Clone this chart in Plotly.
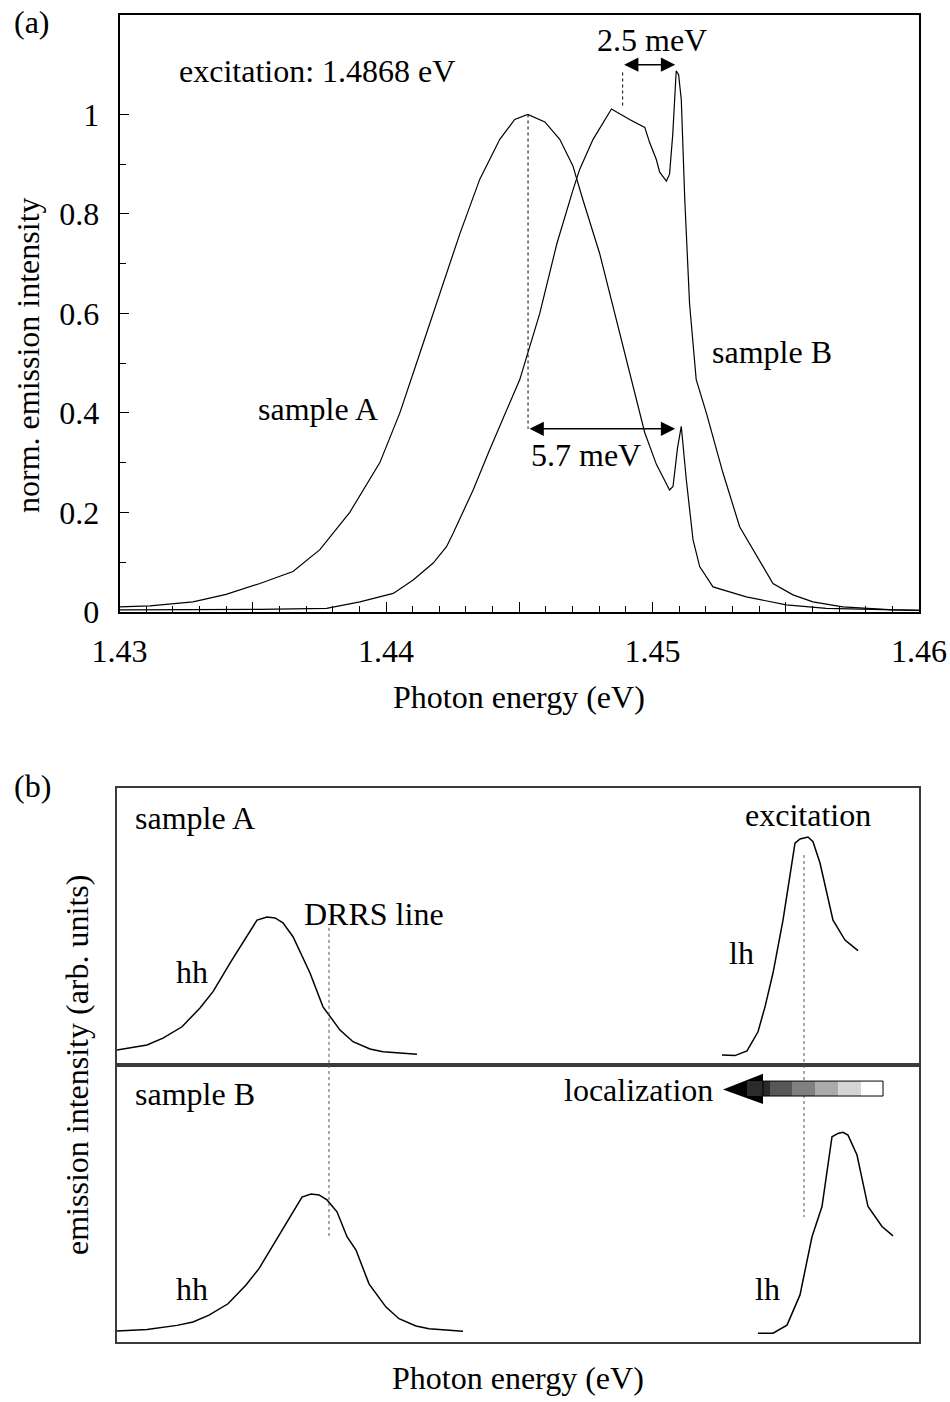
import plotly.graph_objects as go

# ---------------- panel (a): normalised emission spectra ----------------
energy_a = [1.43000, 1.43114, 1.43276, 1.43400, 1.43527, 1.43651, 1.43752, 1.43864,
            1.43977, 1.44052, 1.44127, 1.44202, 1.44277, 1.44352, 1.44427, 1.44483,
            1.44532, 1.44596, 1.44652, 1.44701, 1.44738, 1.44802, 1.44858, 1.44921,
            1.44971, 1.45015, 1.45064, 1.45077, 1.45094, 1.45108, 1.45127, 1.45152,
            1.45177, 1.45227, 1.45352, 1.45502, 1.45652, 1.46000]
intensity_a = [0.010, 0.012, 0.020, 0.035, 0.057, 0.081, 0.125, 0.200,
               0.300, 0.400, 0.520, 0.640, 0.760, 0.870, 0.950, 0.990,
               1.000, 0.985, 0.950, 0.897, 0.830, 0.720, 0.600, 0.467,
               0.360, 0.296, 0.245, 0.252, 0.330, 0.373, 0.265, 0.145,
               0.091, 0.050, 0.030, 0.014, 0.007, 0.003]

energy_b = [1.43000, 1.43300, 1.43527, 1.43777, 1.43902, 1.44027, 1.44102, 1.44177,
            1.44227, 1.44252, 1.44327, 1.44389, 1.44452, 1.44502, 1.44577, 1.44641,
            1.44702, 1.44727, 1.44777, 1.44846, 1.44914, 1.44971, 1.44989, 1.45014,
            1.45027, 1.45052, 1.45064, 1.45076, 1.45089, 1.45098, 1.45108, 1.45121,
            1.45139, 1.45164, 1.45202, 1.45264, 1.45327, 1.45402, 1.45452, 1.45527,
            1.45602, 1.45714, 1.45902, 1.46000]
intensity_b = [0.004, 0.004, 0.005, 0.007, 0.020, 0.037, 0.064, 0.098,
               0.131, 0.158, 0.245, 0.326, 0.406, 0.467, 0.600, 0.740,
               0.849, 0.890, 0.950, 1.011, 0.990, 0.974, 0.944, 0.910,
               0.884, 0.866, 0.880, 0.960, 1.088, 1.080, 1.030, 0.830,
               0.620, 0.467, 0.400, 0.280, 0.171, 0.104, 0.057, 0.034,
               0.020, 0.010, 0.004, 0.003]

x_major = [1.43, 1.435, 1.44, 1.445, 1.45, 1.455, 1.46]
x_major_text = ["1.43", "", "1.44", "", "1.45", "", "1.46"]
y_major = [0, 0.2, 0.4, 0.6, 0.8, 1.0]
y_major_text = ["0", "0.2", "0.4", "0.6", "0.8", "1"]
y_minor = [0.1, 0.3, 0.5, 0.7, 0.9]

peak_a = 1.44533          # maximum of sample A
drrs_a = 1.45090          # sharp line on both spectra
peak_b = 1.44888          # broad maximum of sample B
arrow_57_y = 0.368
arrow_25_y = 1.100

# ---------------- panel (b): schematic hh / lh emission -----------------
hh_a_x = [0, 30, 46, 65, 83, 96, 105, 113, 140, 150, 158, 166, 176, 193, 206, 223, 236, 253, 266, 300]
hh_a_y = [0.054, 0.072, 0.097, 0.138, 0.206, 0.265, 0.319, 0.368, 0.523, 0.534, 0.531, 0.513,
          0.463, 0.332, 0.210, 0.126, 0.084, 0.058, 0.048, 0.039]
lh_a_x = [605, 618, 630, 641, 648, 656, 666, 678, 683, 691, 696, 703, 716, 728, 741]
lh_a_y = [0.036, 0.034, 0.051, 0.120, 0.210, 0.332, 0.523, 0.801, 0.816, 0.823, 0.806, 0.729,
          0.523, 0.451, 0.413]

hh_b_x = [0, 30, 60, 76, 92, 111, 129, 142, 151, 159, 185, 194, 202, 210, 220, 230, 239, 252, 269, 282, 299, 312, 346]
hh_b_y = [0.040, 0.045, 0.060, 0.072, 0.097, 0.138, 0.206, 0.265, 0.319, 0.368, 0.523, 0.534,
          0.531, 0.513, 0.470, 0.380, 0.332, 0.210, 0.126, 0.084, 0.058, 0.048, 0.039]
lh_b_x = [641, 656, 670, 683, 695, 705, 715, 721, 726, 731, 740, 751, 765, 776]
lh_b_y = [0.032, 0.032, 0.061, 0.170, 0.380, 0.489, 0.741, 0.753, 0.757, 0.747, 0.675, 0.489,
          0.417, 0.383]

drrs_x = 212
drrs_top = 0.495
exc_x = 687
exc_top = 0.758
exc_bottom = 0.451
drrs_bottom = 0.380

FONT = "Liberation Serif, Times New Roman, serif"
BLACK = "#000000"
FRAME = "#3a3a3a"

fig = go.Figure()

# spectra
fig.add_trace(go.Scatter(x=energy_a, y=intensity_a, mode="lines",
                         line=dict(color=BLACK, width=1.2), xaxis="x", yaxis="y"))
fig.add_trace(go.Scatter(x=energy_b, y=intensity_b, mode="lines",
                         line=dict(color=BLACK, width=1.2), xaxis="x", yaxis="y"))
# dotted markers of peak positions
fig.add_trace(go.Scatter(x=[peak_a, peak_a], y=[1.0, arrow_57_y], mode="lines",
                         line=dict(color=BLACK, width=1, dash="dot"), xaxis="x", yaxis="y"))
fig.add_trace(go.Scatter(x=[peak_b, peak_b], y=[1.018, 1.087], mode="lines",
                         line=dict(color=BLACK, width=1, dash="dot"), xaxis="x", yaxis="y"))

# schematic curves
fig.add_trace(go.Scatter(x=hh_a_x, y=hh_a_y, mode="lines", line=dict(color=BLACK, width=1.5),
                         xaxis="x2", yaxis="y2"))
fig.add_trace(go.Scatter(x=lh_a_x, y=lh_a_y, mode="lines", line=dict(color=BLACK, width=1.5),
                         xaxis="x2", yaxis="y2"))
fig.add_trace(go.Scatter(x=hh_b_x, y=hh_b_y, mode="lines", line=dict(color=BLACK, width=1.5),
                         xaxis="x3", yaxis="y3"))
fig.add_trace(go.Scatter(x=lh_b_x, y=lh_b_y, mode="lines", line=dict(color=BLACK, width=1.5),
                         xaxis="x3", yaxis="y3"))
# DRRS and excitation guide lines through both halves
for xv, top in [(drrs_x, drrs_top), (exc_x, exc_top)]:
    fig.add_trace(go.Scatter(x=[xv, xv], y=[top, 0], mode="lines",
                             line=dict(color="#555555", width=1, dash="dot"), xaxis="x2", yaxis="y2"))
for xv, bot in [(drrs_x, drrs_bottom), (exc_x, exc_bottom)]:
    fig.add_trace(go.Scatter(x=[xv, xv], y=[1, bot], mode="lines",
                             line=dict(color="#555555", width=1, dash="dot"), xaxis="x3", yaxis="y3"))

tickfont = dict(family=FONT, size=32, color=BLACK)
frame_axis = dict(showline=True, linecolor=FRAME, linewidth=1.5, mirror=True, automargin=False,
                  showgrid=False, zeroline=False, showticklabels=False, ticks="")

fig.update_layout(
    width=950, height=1402,
    margin=dict(l=0, r=0, t=0, b=0, autoexpand=False),
    paper_bgcolor="white", plot_bgcolor="white",
    showlegend=False,
    font=dict(family=FONT, size=32, color=BLACK),
    xaxis=dict(domain=[119.5 / 950, 919 / 950], range=[1.43, 1.46], anchor="y",
               showline=True, linecolor=BLACK, linewidth=1.5, mirror=True, automargin=False,
               showgrid=False, zeroline=False,
               ticks="inside", ticklen=10, tickwidth=1, tickcolor=BLACK,
               tickvals=x_major, ticktext=x_major_text, tickfont=tickfont,
               ticklabelstandoff=10,
               minor=dict(ticks="inside", ticklen=6, tickwidth=1, tickcolor=BLACK,
                          dtick=0.001, tick0=1.43, showgrid=False)),
    yaxis=dict(domain=[1 - 611.8 / 1402, 1 - 15 / 1402], range=[0, 1.2], anchor="x",
               showline=True, linecolor=BLACK, linewidth=1.5, mirror=True, automargin=False,
               showgrid=False, zeroline=False,
               ticks="inside", ticklen=10, tickwidth=1, tickcolor=BLACK,
               tickvals=y_major, ticktext=y_major_text, tickfont=tickfont,
               ticklabelstandoff=12,
               minor=dict(ticks="inside", ticklen=7, tickwidth=1, tickcolor=BLACK,
                          tickvals=y_minor, showgrid=False)),
    xaxis2=dict(domain=[117 / 950, 919 / 950], range=[0, 802], anchor="y2", **frame_axis),
    yaxis2=dict(domain=[1 - 1065 / 1402, 1 - 788 / 1402], range=[0, 1], anchor="x2", **frame_axis),
    xaxis3=dict(domain=[117 / 950, 919 / 950], range=[0, 802], anchor="y3", **frame_axis),
    yaxis3=dict(domain=[1 - 1342 / 1402, 1 - 1065 / 1402], range=[0, 1], anchor="x3", **frame_axis),
)

ann = []


def label(text, x, y, xref, yref, xanchor="center", yanchor="middle", angle=0):
    ann.append(dict(text=text, x=x, y=y, xref=xref, yref=yref, showarrow=False,
                    xanchor=xanchor, yanchor=yanchor, textangle=angle,
                    font=dict(family=FONT, size=32, color=BLACK)))


# panel (a) texts
label("(a)", 12 / 950, 1 - 22 / 1402, "paper", "paper", xanchor="left")
label("excitation: 1.4868 eV", 1.43216, 1.087, "x", "y", xanchor="left")
label("2.5 meV", 1.44999, 1.150, "x", "y")
label("5.7 meV", 1.44749, 0.316, "x", "y")
label("sample A", 1.43745, 0.407, "x", "y")
label("sample B", 1.45447, 0.523, "x", "y")
label("Photon energy (eV)", 519 / 950, 1 - 697 / 1402, "paper", "paper")
label("norm. emission intensity", 28 / 950, 1 - 355 / 1402, "paper", "paper", angle=-90)

# double-headed arrows
for x0, x1, yv in [(peak_a, drrs_a - 0.00005, arrow_57_y), (peak_b, drrs_a - 0.00005, arrow_25_y)]:
    ann.append(dict(x=x1, y=yv, ax=x0, ay=yv, xref="x", yref="y", axref="x", ayref="y",
                    text="", showarrow=True, arrowhead=2, startarrowhead=2,
                    arrowside="end+start", arrowsize=1.9, startarrowsize=1.9,
                    arrowwidth=1.5, arrowcolor=BLACK, standoff=0, startstandoff=0))

# panel (b) texts
label("(b)", 12 / 950, 1 - 786 / 1402, "paper", "paper", xanchor="left")
label("sample A", 16, 0.892, "x2", "y2", xanchor="left")
label("DRRS line", 185, 0.545, "x2", "y2", xanchor="left")
label("hh", 75, 0.336, "x2", "y2")
label("excitation", 691, 0.903, "x2", "y2")
label("lh", 624, 0.404, "x2", "y2")
label("sample B", 16, 0.895, "x3", "y3", xanchor="left")
label("localization", 598, 0.910, "x3", "y3", xanchor="right")
label("hh", 75, 0.190, "x3", "y3")
label("lh", 650, 0.190, "x3", "y3")
label("Photon energy (eV)", 518 / 950, 1 - 1378 / 1402, "paper", "paper")
label("emission intensity (arb. units)", 77 / 950, 1 - 1065 / 1402, "paper", "paper", angle=-90)

fig.update_layout(annotations=ann)

# localization arrow: black head followed by a grey-scale shaft
shapes = []
tip_x, head_x, mid_y = 606, 646, 0.912
shapes.append(dict(type="path", xref="x3", yref="y3",
                   path=f"M {tip_x},{mid_y} L {head_x},0.968 L {head_x},0.859 Z",
                   fillcolor=BLACK, line=dict(width=0)))
edges = [630, 653, 675, 698, 721, 744, 766]
greys = ["#2b2b2b", "#575757", "#808080", "#aaaaaa", "#d5d5d5", "#ffffff"]
for i, g in enumerate(greys):
    shapes.append(dict(type="rect", xref="x3", yref="y3", x0=edges[i], x1=edges[i + 1],
                       y0=0.888, y1=0.942, fillcolor=g, line=dict(width=0)))
shapes.append(dict(type="rect", xref="x3", yref="y3", x0=head_x, x1=edges[-1],
                   y0=0.888, y1=0.942, fillcolor="rgba(0,0,0,0)", line=dict(color=BLACK, width=1)))
fig.update_layout(shapes=shapes)

fig.write_html("out.html")
